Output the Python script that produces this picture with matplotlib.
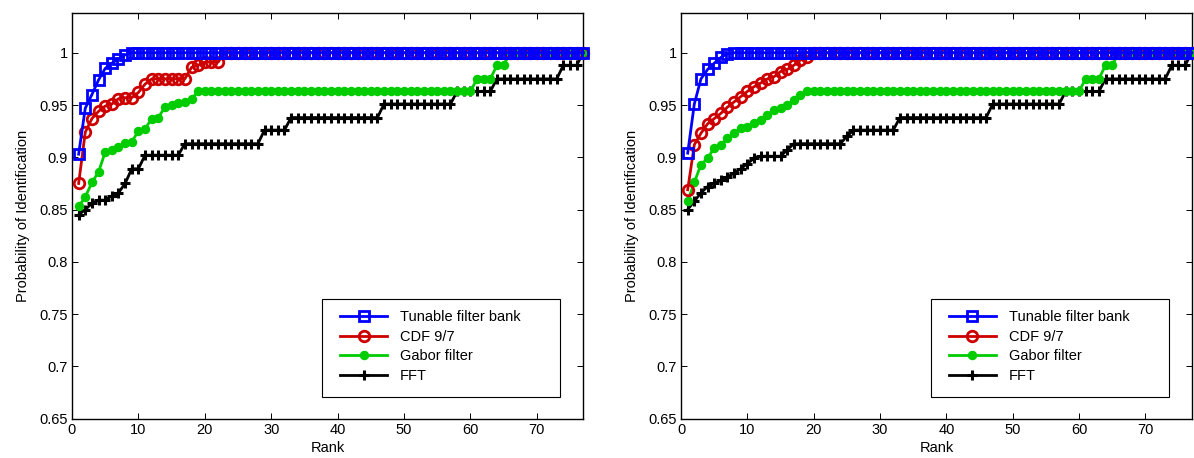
import matplotlib
matplotlib.use("Agg")
import matplotlib.pyplot as plt
from matplotlib.patches import Rectangle

plt.rcParams['font.family'] = ['Liberation Sans', 'DejaVu Sans']

ranks = list(range(1, 78))

# ---- left panel ----
left_tunable = [0.903, 0.947, 0.960, 0.974, 0.985, 0.990, 0.994, 0.998] + [1.0] * 69
left_cdf = ([0.875, 0.924, 0.937, 0.944, 0.949, 0.951, 0.956, 0.957, 0.957, 0.962, 0.970]
            + [0.975] * 6 + [0.986, 0.988, 0.991, 0.991, 0.991] + [1.0] * 55)
left_gabor = ([0.853, 0.862, 0.876, 0.886, 0.905, 0.907, 0.910, 0.914, 0.915, 0.925,
               0.927, 0.937, 0.938, 0.948, 0.950, 0.952, 0.953, 0.956]
              + [0.963] * 42 + [0.975] * 3 + [0.988] * 2 + [1.0] * 12)
left_fft = ([0.845, 0.850, 0.856, 0.859, 0.859, 0.863, 0.866, 0.875, 0.889, 0.889, 0.902]
            + [0.902] * 5 + [0.913] * 12 + [0.926] * 4 + [0.938] * 14 + [0.951] * 11
            + [0.963] * 6 + [0.975] * 10 + [0.988] * 3 + [1.0])

# ---- right panel ----
right_tunable = [0.904, 0.951, 0.975, 0.984, 0.990, 0.9955, 0.999] + [1.0] * 70
right_cdf = ([0.869, 0.912, 0.923, 0.932, 0.937, 0.942, 0.948, 0.953, 0.958, 0.963,
              0.9675, 0.971, 0.975, 0.977, 0.982, 0.984, 0.988, 0.993, 0.996] + [1.0] * 58)
right_gabor = ([0.858, 0.876, 0.893, 0.899, 0.909, 0.912, 0.918, 0.923, 0.928, 0.929,
                0.9325, 0.936, 0.940, 0.945, 0.947, 0.950, 0.955, 0.960]
               + [0.963] * 42 + [0.975] * 3 + [0.988] * 2 + [1.0] * 12)
right_fft = ([0.850, 0.858, 0.866, 0.872, 0.875, 0.878, 0.881, 0.885, 0.889, 0.894, 0.899]
             + [0.901] * 4 + [0.907] + [0.913] * 8 + [0.920] + [0.926] * 7 + [0.938] * 14
             + [0.951] * 11 + [0.963] * 6 + [0.975] * 10 + [0.988] * 3 + [1.0])

labels = ['Tunable filter bank', 'CDF 9/7', 'Gabor filter', 'FFT']
yticks = [0.65, 0.7, 0.75, 0.8, 0.85, 0.9, 0.95, 1.0]
ytick_labels = ['0.65', '0.7', '0.75', '0.8', '0.85', '0.9', '0.95', '1']
xticks = [0, 10, 20, 30, 40, 50, 60, 70]

styles = [
    dict(color='#0000FF', marker='s', ms=7.2, mfc='none', mec='#0000FF', mew=2, lw=2, zorder=5),
    dict(color='#CC0000', marker='o', ms=7.6, mfc='none', mec='#CC0000', mew=2, lw=2, zorder=4),
    dict(color='#00CC00', marker='o', ms=5.8, mfc='#00CC00', mec='#00CC00', mew=1, lw=2, zorder=3),
    dict(color='#000000', marker='+', ms=7, mew=2.2, lw=2, zorder=2),
]

fig = plt.figure(figsize=(11.94, 4.58), dpi=100)
ax1 = fig.add_axes([0.0603, 0.0858, 0.4282, 0.8858])
ax2 = fig.add_axes([0.5704, 0.0858, 0.4277, 0.8858])

for ax, series in [(ax1, [left_tunable, left_cdf, left_gabor, left_fft]),
                   (ax2, [right_tunable, right_cdf, right_gabor, right_fft])]:
    handles = []
    for vals, st, lab in zip(series, styles, labels):
        h, = ax.plot(ranks, vals, label=lab, clip_on=False, **st)
        handles.append(h)
    ax.set_xlim(0, 77)
    ax.set_ylim(0.65, 1.038)
    ax.set_xticks(xticks)
    ax.set_yticks(yticks)
    ax.set_yticklabels(ytick_labels)
    ax.tick_params(direction='in', top=True, right=True, length=4, width=0.7,
                   labelsize=10.5, pad=3)
    for sp in ax.spines.values():
        sp.set_linewidth(1.0)
    ax.set_xlabel('Rank', fontsize=10.5, labelpad=3)
    ax.set_ylabel('Probability of Identification', fontsize=10.5, labelpad=7)
    # legend box (MATLAB-style wide frame)
    ax.add_patch(Rectangle((0.489, 0.053), 0.466, 0.241, transform=ax.transAxes,
                           facecolor='white', edgecolor='black', linewidth=0.8, zorder=10))
    leg = ax.legend(handles=handles, loc='upper left', bbox_to_anchor=(0.499, 0.300),
                    frameon=False, fontsize=10.5, handlelength=3.2, handletextpad=0.9,
                    labelspacing=0.38, borderpad=0.4, numpoints=1)
    leg.set_zorder(11)

fig.savefig('out.png', dpi=100)
